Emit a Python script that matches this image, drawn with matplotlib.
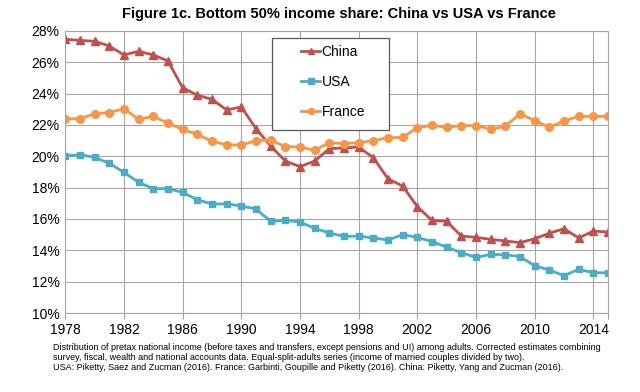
import numpy as np
import matplotlib
matplotlib.use('Agg')
import matplotlib.pyplot as plt
from matplotlib.ticker import FuncFormatter
from matplotlib.patches import Rectangle

### DATA ###
years = list(range(1978, 2016))
china = [27.47, 27.40, 27.34, 27.04, 26.47, 26.70, 26.47, 26.09, 24.38, 23.90,
         23.64, 22.96, 23.15, 21.77, 20.66, 19.70, 19.34, 19.70, 20.49, 20.53,
         20.60, 19.91, 18.57, 18.10, 16.79, 15.91, 15.85, 14.91, 14.83, 14.70,
         14.60, 14.49, 14.74, 15.09, 15.38, 14.79, 15.23, 15.17]
usa = [20.02, 20.10, 19.94, 19.55, 18.98, 18.34, 17.94, 17.94, 17.70, 17.23,
       16.96, 16.96, 16.83, 16.64, 15.85, 15.91, 15.81, 15.40, 15.11, 14.89,
       14.91, 14.79, 14.66, 15.00, 14.83, 14.55, 14.21, 13.85, 13.55, 13.74,
       13.72, 13.60, 13.02, 12.74, 12.38, 12.79, 12.57, 12.57]
france = [22.40, 22.40, 22.72, 22.79, 23.04, 22.36, 22.55, 22.11, 21.72, 21.40,
          20.96, 20.74, 20.72, 21.00, 21.04, 20.62, 20.60, 20.38, 20.87, 20.81,
          20.87, 21.00, 21.19, 21.21, 21.83, 21.98, 21.85, 21.96, 21.96, 21.74,
          21.91, 22.72, 22.28, 21.85, 22.26, 22.55, 22.55, 22.55]
x_ticks = list(range(1978, 2015, 4))
y_ticks = list(range(10, 29, 2))

title = "Figure 1c. Bottom 50% income share: China vs USA vs France"
note = ("Distribution of pretax national income (before taxes and transfers, except pensions and UI) among adults. Corrected estimates combining\n"
        "survey, fiscal, wealth and national accounts data. Equal-split-adults series (income of married couples divided by two).\n"
        "USA: Piketty, Saez and Zucman (2016). France: Garbinti, Goupille and Piketty (2016). China: Piketty, Yang and Zucman (2016).")

plt.rcParams['font.family'] = ['Liberation Sans', 'DejaVu Sans']

fig = plt.figure(figsize=(6.4, 3.92), dpi=100)
ax = fig.add_axes([0.102, 0.2015, 0.848, 0.7195])

ax.plot(years, china, color='#C0504D', marker='^', markersize=5.5, linewidth=2, label='China')
ax.plot(years, usa, color='#4BACC6', marker='s', markersize=5, linewidth=2, label='USA')
ax.plot(years, france, color='#F79646', marker='o', markersize=5.5, linewidth=2, label='France')

ax.set_xlim(1978, 2015)
ax.set_ylim(10, 28)
ax.set_xticks(x_ticks + [2015])
ax.set_xticklabels([str(y) for y in x_ticks] + [''])
ax.set_yticks(y_ticks)
ax.yaxis.set_major_formatter(FuncFormatter(lambda v, p: f"{v:.0f}%"))
ax.tick_params(axis='both', labelsize=10, color='#A0A0A0', length=4)
ax.tick_params(axis='y', length=0, pad=4)
ax.grid(True, color='#A6A6A6', linewidth=0.8)
ax.set_axisbelow(True)
for s in ax.spines.values():
    s.set_color('#A6A6A6')
    s.set_linewidth(0.8)

# legend box drawn separately so its padding matches the original
ax.add_patch(Rectangle((0.381, 0.649), 0.2156, 0.326, transform=ax.transAxes,
                       facecolor='white', edgecolor='#595959', linewidth=0.9,
                       zorder=4))
leg = ax.legend(loc='upper left', bbox_to_anchor=(0.434, 0.95), fontsize=10,
                handlelength=1.4, handletextpad=0.1, labelspacing=1.15,
                borderpad=0, borderaxespad=0, frameon=False,
                markerscale=0.8)
leg.set_zorder(5)

fig.text(0.53, 0.965, title, ha='center', va='center', fontsize=10.5, fontweight='bold')
fig.text(0.083, 0.087, note, ha='left', va='center', fontsize=6.5, linespacing=1.15)

fig.savefig('out.png', dpi=100)
